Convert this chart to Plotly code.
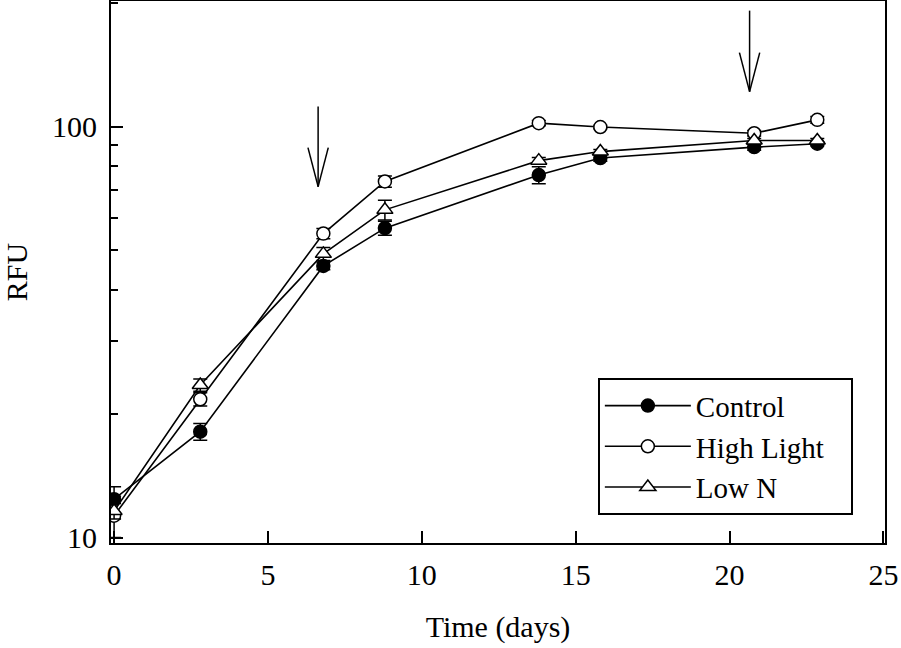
import numpy as np
import plotly.graph_objects as go

# time points (days)
days = [0, 2.8, 6.8, 8.8, 13.8, 15.8, 20.8, 22.85]

# RFU means and error bars
control = [12.4, 18.1, 45.8, 56.6, 76.2, 83.8, 89.1, 90.8]
control_err = [0.9, 0.85, 1.0, 2.2, 3.6, 1.5, 1.5, 1.0]
high_light = [11.3, 21.7, 54.9, 73.5, 101.9, 99.7, 96.3, 103.8]
high_light_err = [1.3, 0.8, 1.6, 2.3, 1.5, 1.0, 1.5, 2.0]
low_n = [11.6, 23.5, 49.0, 62.7, 82.6, 86.9, 92.5, 92.5]
low_n_err = [0.5, 0.8, 1.8, 3.5, 1.5, 1.0, 1.0, 1.0]

# arrows marking treatment days (x in days, y in RFU)
arrow_days = [6.63, 20.65]
arrow_top = [111.9, 191.4]
arrow_tip = [71.4, 121.6]

y_lo, y_hi = 9.7, 202
font_family = 'Liberation Serif, Times New Roman, serif'

def ydom(v):
    # RFU value -> fraction of the log y-axis domain
    return (np.log10(v) - np.log10(y_lo)) / (np.log10(y_hi) - np.log10(y_lo))

fig = go.Figure()

series = [
    ('Control', control, control_err, dict(symbol='circle', color='black', size=13,
                                           line=dict(color='black', width=1.5))),
    ('High Light', high_light, high_light_err, dict(symbol='circle', color='white', size=13,
                                                    line=dict(color='black', width=1.5))),
    ('Low N', low_n, low_n_err, dict(symbol='triangle-up', color='white', size=14,
                                     line=dict(color='black', width=1.5))),
]
for name, vals, err, mk in series:
    fig.add_trace(go.Scatter(
        x=days, y=vals, name=name + '\u00a0\u00a0\u00a0', mode='lines+markers',
        line=dict(color='black', width=1.6),
        marker=mk,
        error_y=dict(type='data', array=err, visible=True, color='black',
                     thickness=1.5, width=7),
    ))

# arrows drawn as three line segments each
for xd, yt, yb in zip(arrow_days, arrow_top, arrow_tip):
    fig.add_shape(type='line', xref='x', yref='y domain', x0=xd, x1=xd,
                  y0=ydom(yt), y1=ydom(yb), line=dict(color='black', width=1.5))
    for dx in (-0.33, 0.33):
        fig.add_shape(type='line', xref='x', yref='y domain', x0=xd + dx, x1=xd,
                      y0=ydom(yb) + 0.072, y1=ydom(yb), line=dict(color='black', width=1.5))

fig.update_layout(
    width=901, height=648,
    margin=dict(l=111, r=16, t=1, b=105),
    paper_bgcolor='white', plot_bgcolor='white',
    font=dict(family=font_family, size=30, color='black'),
    showlegend=True,
    legend=dict(x=0.629, y=0.304, xanchor='left', yanchor='top',
                bordercolor='black', borderwidth=2, bgcolor='white',
                font=dict(size=29), tracegroupgap=0, itemwidth=86),
)
fig.update_xaxes(
    range=[-0.1, 25.05], tickvals=[0, 5, 10, 15, 20, 25],
    ticks='inside', ticklen=12, tickwidth=1.5, tickcolor='black',
    ticklabelstandoff=4,
    showline=True, linecolor='black', linewidth=2, mirror=True,
    showgrid=False, zeroline=False, automargin=False,
    title=dict(text='Time (days)', standoff=26, font=dict(size=30)),
)
fig.update_yaxes(
    type='log', range=[np.log10(y_lo), np.log10(y_hi)],
    tickvals=[10, 100], ticktext=['10', '100'],
    ticks='inside', ticklen=12, tickwidth=1.5, tickcolor='black',
    ticklabelstandoff=6,
    minor=dict(tickvals=[20, 30, 40, 50, 60, 70, 80, 90, 200], ticks='inside',
               ticklen=7, tickwidth=1.5, tickcolor='black', showgrid=False),
    showline=True, linecolor='black', linewidth=2, mirror=True,
    showgrid=False, zeroline=False, automargin=False,
    title=dict(text='RFU', standoff=20, font=dict(size=30)),
)

fig.write_html("out.html", config={'displayModeBar': False},
               post_script="document.body.style.margin='0';")
